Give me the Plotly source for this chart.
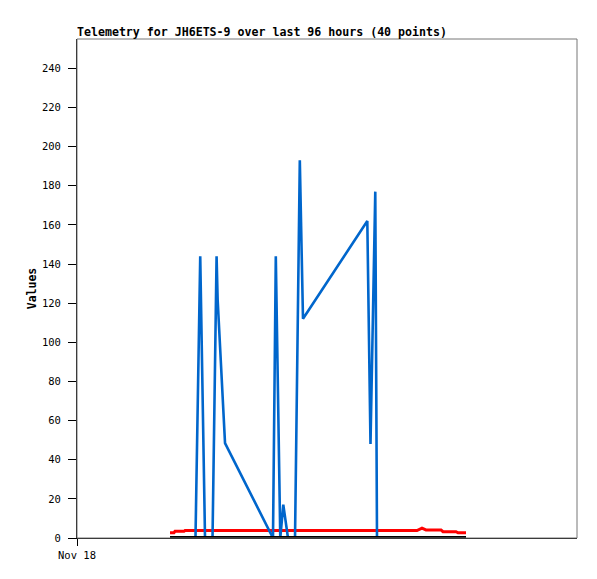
import plotly.graph_objects as go

# Hours since Nov 18 00:00 (x axis spans 96 hours)
blue_t = [17.86, 22.75, 23.66, 24.58, 26.02, 26.80, 27.00, 28.42, 37.63, 38.17,
          39.03, 39.61, 40.51, 41.86, 42.78, 43.39, 55.74, 56.35, 57.27, 57.60, 74.69]
blue_v = [0, 0, 144, 0, 0, 144, 122, 48.5, 0, 144,
          0, 17, 0, 0, 193, 112, 162, 48, 177, 0, 0]

red_t = [17.86, 18.62, 18.82, 20.54, 20.74, 65.28, 66.24, 67.0, 69.89, 70.27, 72.77, 73.15, 74.69]
red_v = [2.7, 2.7, 3.4, 3.4, 3.8, 3.8, 5.0, 4.1, 4.1, 3.2, 3.2, 2.7, 2.7]

black_t = [17.86, 74.69]
black_v = [0, 0]

y_ticks = list(range(0, 241, 20))
x_tickvals = [0]
x_ticktext = ["Nov 18"]

FONT = "DejaVu Sans Mono"

fig = go.Figure()
fig.add_trace(go.Scatter(x=red_t, y=red_v, mode="lines",
                         line=dict(color="#ff0000", width=3), name="red"))
fig.add_trace(go.Scatter(x=blue_t, y=blue_v, mode="lines",
                         line=dict(color="#0066cc", width=2.6), name="blue"))
fig.add_trace(go.Scatter(x=black_t, y=black_v, mode="lines",
                         line=dict(color="#000000", width=4), name="black"))

fig.update_layout(
    width=597, height=579,
    margin=dict(l=69, r=28, t=31, b=49),
    paper_bgcolor="white", plot_bgcolor="white",
    showlegend=False,
    font=dict(family=FONT, size=11, color="#000000"),
    title=dict(text="Telemetry for JH6ETS-9 over last 96 hours (40 points)",
               font=dict(family=FONT, size=11.6, color="#000000", weight="bold"),
               x=69/597, xanchor="left", xref="container",
               y=1-24/579, yanchor="middle", yref="container"),
    shapes=[dict(type="rect", xref="paper", yref="paper", x0=0, y0=0, x1=1, y1=1,
                 line=dict(color="#777777", width=1), layer="above")],
)
fig.update_xaxes(range=[0, 96], tickvals=x_tickvals, ticktext=x_ticktext,
                 ticks="outside", ticklen=7, tickcolor="#000000",
                 showline=True, linecolor="#000000", linewidth=1,
                 showgrid=False, zeroline=False,
                 tickfont=dict(family=FONT, size=10.5))
fig.update_yaxes(range=[0, 255], tickvals=y_ticks,
                 ticks="outside", ticklen=8, tickcolor="#000000",
                 showline=True, linecolor="#000000", linewidth=1,
                 showgrid=False, zeroline=False, ticklabelstandoff=5,
                 tickfont=dict(family=FONT, size=10.5),
                 title=dict(text="Values", font=dict(family=FONT, size=11.5, weight="bold"),
                            standoff=2))

fig.write_html("out.html")
